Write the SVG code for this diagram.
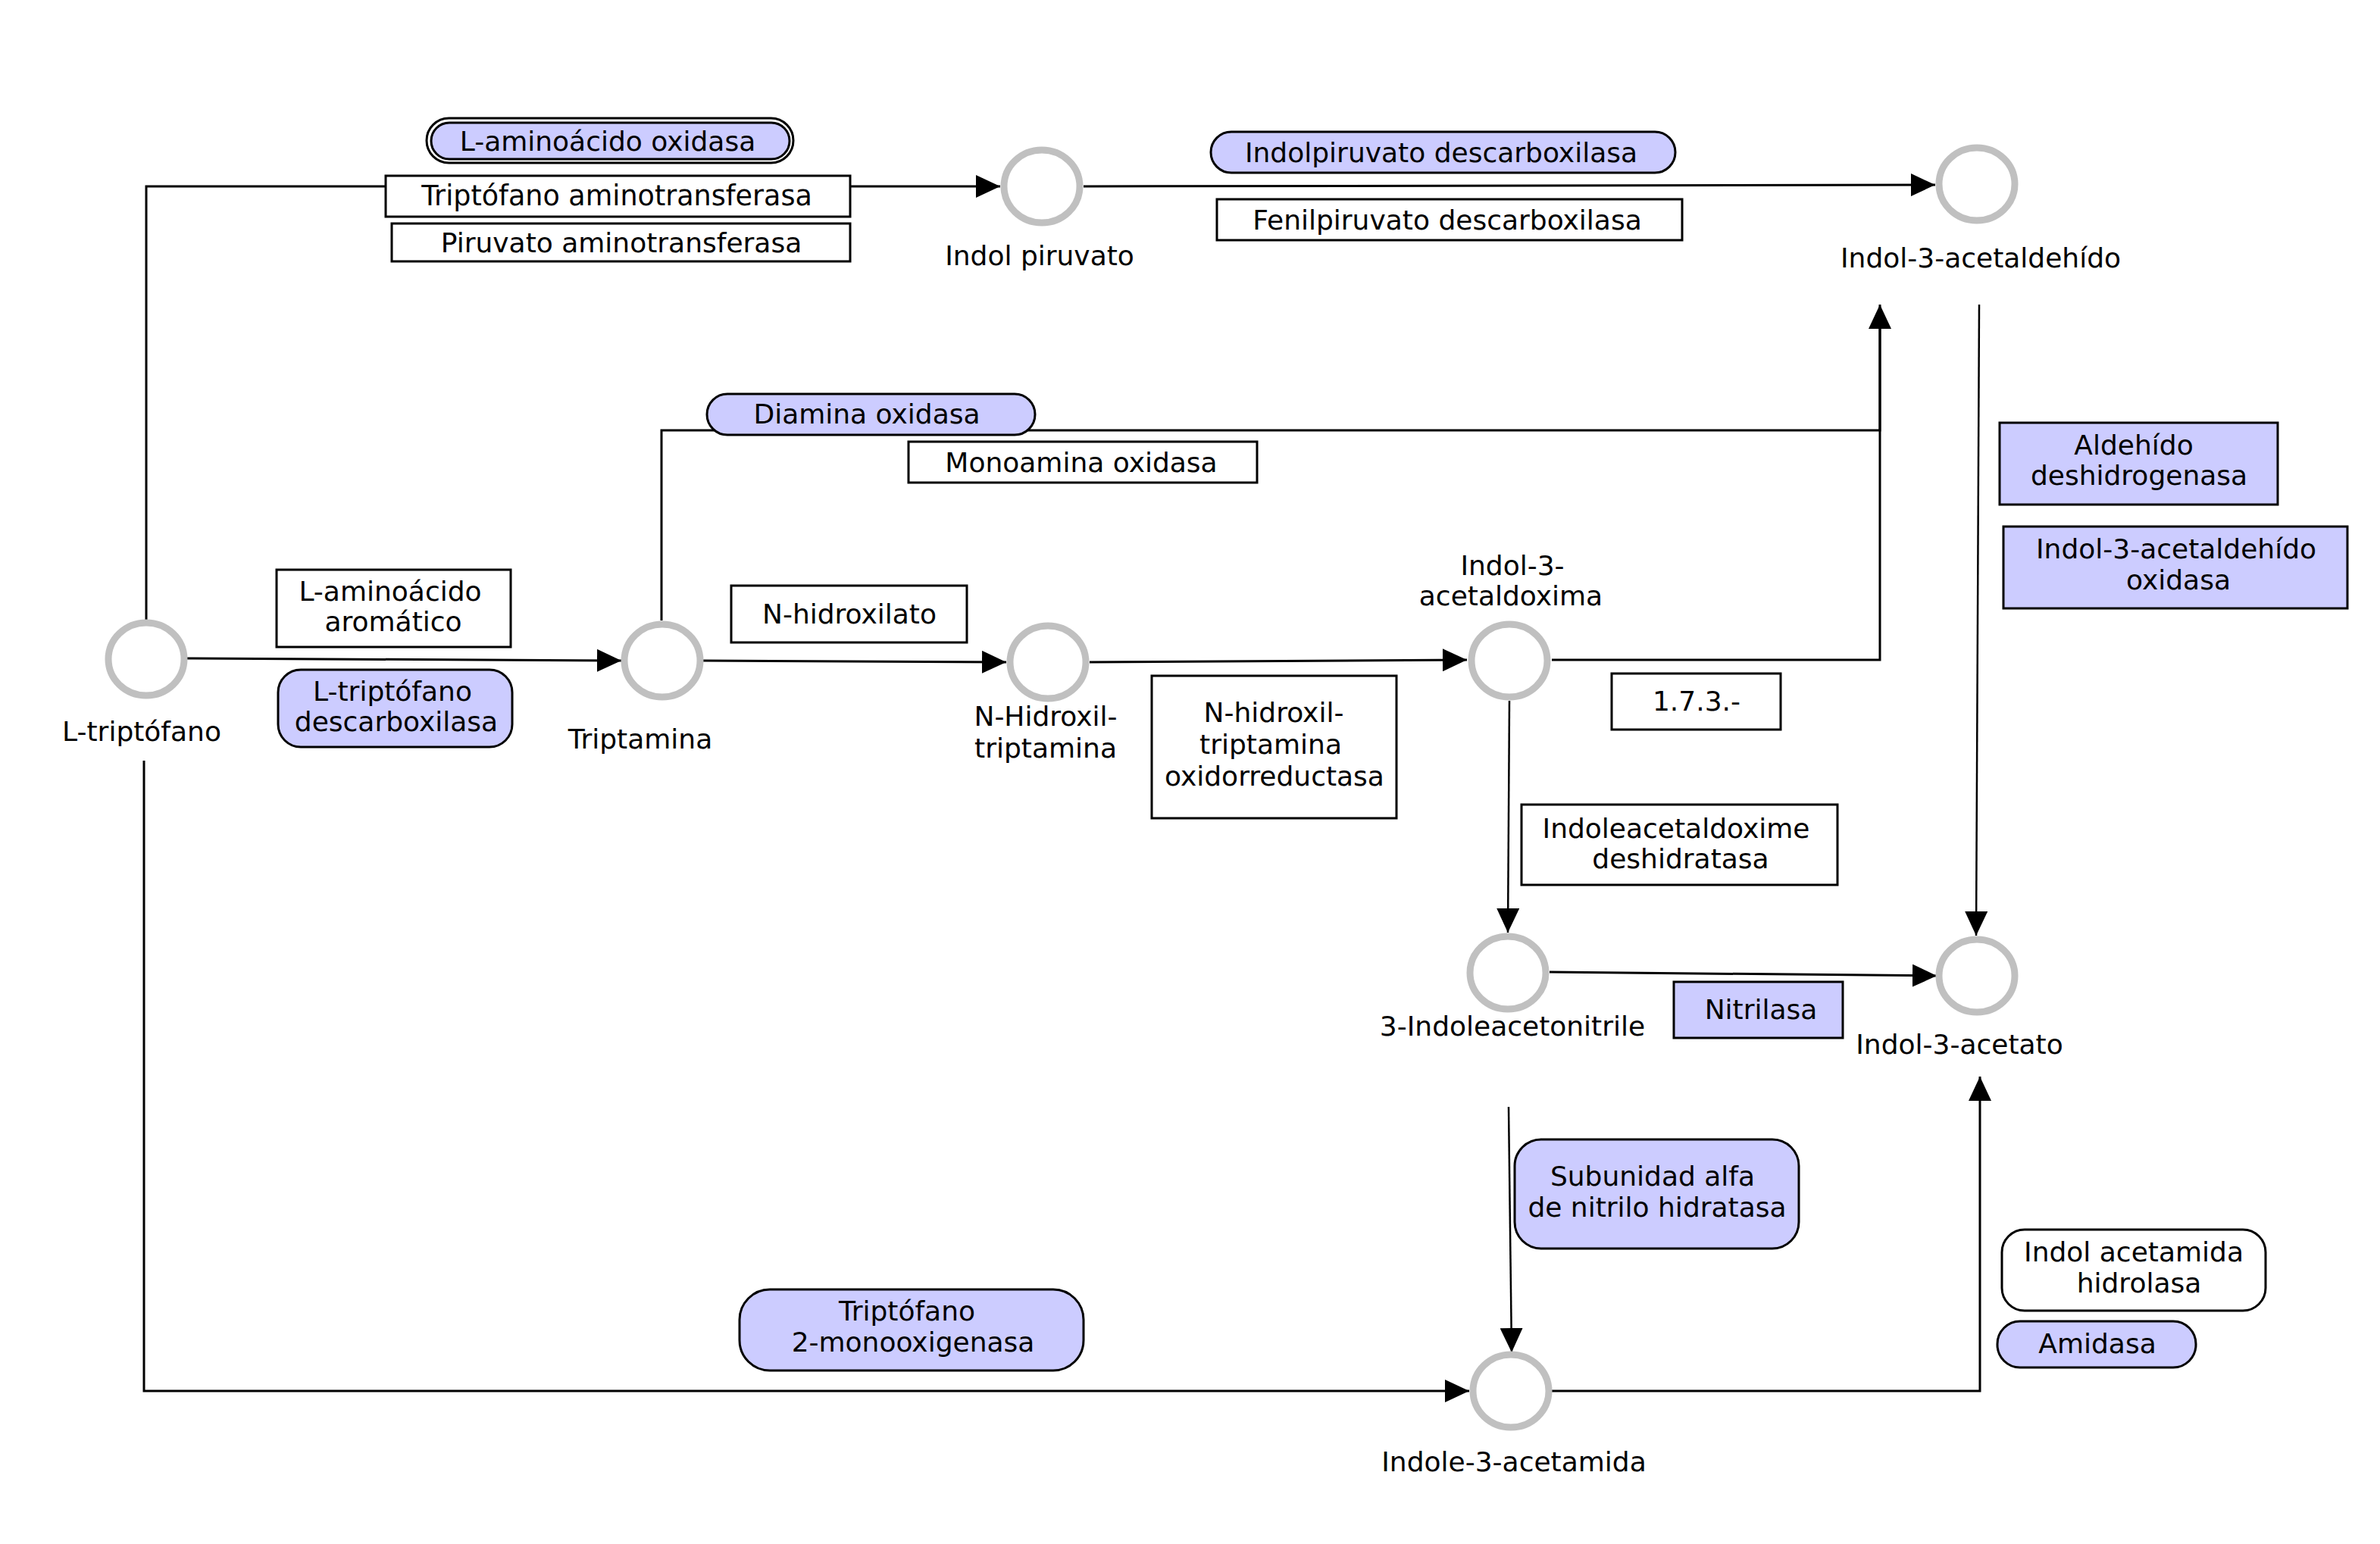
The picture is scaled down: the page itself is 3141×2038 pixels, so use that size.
<svg xmlns="http://www.w3.org/2000/svg" width="3141" height="2038" viewBox="0 0 3141 2038">
<style>
text{font-family:"DejaVu Sans","Liberation Sans",sans-serif;font-size:36px;fill:#000;text-anchor:middle}
.c{fill:#fff;stroke:#c0c0c0;stroke-width:9}
.e{stroke:#000;stroke-width:3;fill:none}
.t{stroke-width:2.5}
.b{fill:#fff;stroke:#000;stroke-width:3}
.p{fill:#ccccff;stroke:#000;stroke-width:3}
</style>
<defs>
<marker id="ar" markerUnits="userSpaceOnUse" markerWidth="32" markerHeight="30" refX="32" refY="15" orient="auto" viewBox="0 0 32 30">
<path d="M0,0L32,15L0,30Z" fill="#000"/>
</marker>
</defs>
<rect width="3141" height="2038" fill="#fff"/>
<g id="connectors">
<path class="e" d="M193,818V246H1320" marker-end="url(#ar)"/>
<path class="e" d="M1430,246L2554,244" marker-end="url(#ar)"/>
<path class="e" d="M247,869L820,872" marker-end="url(#ar)"/>
<path class="e" d="M873,819V568H2481V402" marker-end="url(#ar)"/>
<path class="e" d="M2048,871H2481V420"/>
<path class="e" d="M928,872L1328,874" marker-end="url(#ar)"/>
<path class="e" d="M1438,874L1936,871" marker-end="url(#ar)"/>
<path class="e t" d="M1992,925L1990,1231" marker-end="url(#ar)"/>
<path class="e t" d="M2612,402L2608,1235" marker-end="url(#ar)"/>
<path class="e" d="M2045,1283L2556,1288" marker-end="url(#ar)"/>
<path class="e t" d="M1991,1461L1995,1785" marker-end="url(#ar)"/>
<path class="e" d="M190,1004V1836H1939" marker-end="url(#ar)"/>
<path class="e" d="M2048,1836H2613V1421" marker-end="url(#ar)"/>
</g>
<g id="n-ltriptofano"><ellipse class="c" cx="193" cy="870" rx="50" ry="48"/><text x="187" y="978">L-triptófano</text></g>
<g id="n-triptamina"><ellipse class="c" cx="874" cy="872" rx="50" ry="48"/><text x="845" y="988">Triptamina</text></g>
<g id="n-nhidroxil"><ellipse class="c" cx="1383" cy="874" rx="50" ry="48"/><text x="1380" y="958">N-Hidroxil-</text><text x="1380" y="1000">triptamina</text></g>
<g id="n-acetaldoxima"><ellipse class="c" cx="1992" cy="872" rx="50" ry="48"/><text x="1996" y="759">Indol-3-</text><text x="1994" y="799">acetaldoxima</text></g>
<g id="n-indolpiruvato"><ellipse class="c" cx="1375" cy="246" rx="50" ry="48"/><text x="1372" y="350">Indol piruvato</text></g>
<g id="n-acetaldehido"><ellipse class="c" cx="2609" cy="243" rx="50" ry="48"/><text x="2614" y="353">Indol-3-acetaldehído</text></g>
<g id="n-acetonitrile"><ellipse class="c" cx="1990" cy="1284" rx="50" ry="48"/><text x="1996" y="1367">3-Indoleacetonitrile</text></g>
<g id="n-acetato"><ellipse class="c" cx="2609" cy="1288" rx="50" ry="48"/><text x="2586" y="1391">Indol-3-acetato</text></g>
<g id="n-acetamida"><ellipse class="c" cx="1994" cy="1836" rx="50" ry="48"/><text x="1998" y="1942">Indole-3-acetamida</text></g>
<g id="e-laminoacido-oxidasa"><rect class="b" x="563" y="156" width="484" height="59" rx="29.5"/><rect class="p" x="569" y="162" width="473" height="48" rx="24"/><text x="802" y="199">L-aminoácido oxidasa</text></g>
<g id="e-triptofano-aminotransferasa"><rect class="b" x="509" y="232" width="613" height="54"/><text x="814" y="271" style="font-size:36.5px">Triptófano aminotransferasa</text></g>
<g id="e-piruvato-aminotransferasa"><rect class="b" x="517" y="295" width="605" height="50"/><text x="820" y="333">Piruvato aminotransferasa</text></g>
<g id="e-indolpiruvato-descarboxilasa"><rect class="p" x="1598" y="174" width="613" height="54" rx="27"/><text x="1902" y="214">Indolpiruvato descarboxilasa</text></g>
<g id="e-fenilpiruvato-descarboxilasa"><rect class="b" x="1606" y="263" width="614" height="54"/><text x="1910" y="303">Fenilpiruvato descarboxilasa</text></g>
<g id="e-diamina-oxidasa"><rect class="p" x="933" y="520" width="433" height="54" rx="27"/><text x="1144" y="559">Diamina oxidasa</text></g>
<g id="e-monoamina-oxidasa"><rect class="b" x="1199" y="583" width="460" height="54"/><text x="1427" y="623">Monoamina oxidasa</text></g>
<g id="e-nhidroxilato"><rect class="b" x="965" y="773" width="311" height="75"/><text x="1121" y="823">N-hidroxilato</text></g>
<g id="e-laminoacido-aromatico"><rect class="b" x="365" y="752" width="309" height="102"/><text x="515" y="793">L-aminoácido</text><text x="519" y="833">aromático</text></g>
<g id="e-ltriptofano-descarboxilasa"><rect class="p" x="367" y="884" width="309" height="102" rx="30"/><text x="518" y="925">L-triptófano</text><text x="523" y="965">descarboxilasa</text></g>
<g id="e-nhidroxil-oxidorreductasa"><rect class="b" x="1520" y="892" width="323" height="188"/><text x="1681" y="953">N-hidroxil-</text><text x="1677" y="995">triptamina</text><text x="1682" y="1037">oxidorreductasa</text></g>
<g id="e-1731"><rect class="b" x="2127" y="889" width="223" height="74"/><text x="2239" y="938">1.7.3.-</text></g>
<g id="e-aldehido-deshidrogenasa"><rect class="p" x="2639" y="558" width="367" height="108"/><text x="2816" y="600">Aldehído</text><text x="2823" y="640">deshidrogenasa</text></g>
<g id="e-acetaldehido-oxidasa"><rect class="p" x="2644" y="695" width="454" height="108"/><text x="2872" y="737">Indol-3-acetaldehído</text><text x="2875" y="778">oxidasa</text></g>
<g id="e-indoleacetaldoxime-deshidratasa"><rect class="b" x="2008" y="1062" width="417" height="106"/><text x="2212" y="1106">Indoleacetaldoxime</text><text x="2218" y="1146">deshidratasa</text></g>
<g id="e-nitrilasa"><rect class="p" x="2209" y="1296" width="223" height="74"/><text x="2324" y="1345">Nitrilasa</text></g>
<g id="e-nitrilo-hidratasa"><rect class="p" x="1999" y="1504" width="375" height="144" rx="35"/><text x="2181" y="1565">Subunidad alfa</text><text x="2187" y="1606">de nitrilo hidratasa</text></g>
<g id="e-indol-acetamida-hidrolasa"><rect class="b" x="2642" y="1623" width="348" height="107" rx="30"/><text x="2816" y="1665">Indol acetamida</text><text x="2823" y="1706">hidrolasa</text></g>
<g id="e-amidasa"><rect class="p" x="2636" y="1744" width="262" height="61" rx="30"/><text x="2768" y="1786">Amidasa</text></g>
<g id="e-triptofano-monooxigenasa"><rect class="p" x="976" y="1702" width="454" height="107" rx="40"/><text x="1197" y="1743">Triptófano</text><text x="1205" y="1784">2-monooxigenasa</text></g>
</svg>
